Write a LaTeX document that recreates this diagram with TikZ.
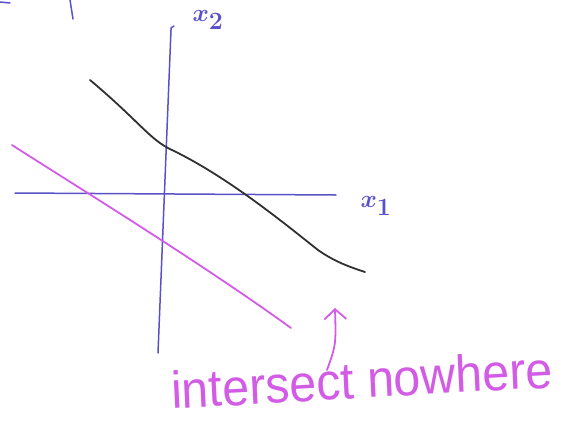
\documentclass[tikz,border=0pt]{standalone}
\usepackage{fontspec}
\newfontfamily\handfont{Liberation Sans}
\usepackage{xcolor}
\definecolor{penBlue}   {HTML}{5A50C8}
\definecolor{penPink}   {HTML}{D35CE6}
\definecolor{penBlack}  {HTML}{303030}
\usetikzlibrary{arrows.meta}

\begin{document}
\begin{tikzpicture}[x=1pt, y=-1pt,
    axis/.style={penBlue, line width=1.5pt, line cap=round},
    pen/.style={line width=1.8pt, line cap=round, line join=round}]
    \useasboundingbox (0,0) rectangle (566,421);
    % cut-off strokes along the top edge
    \draw[axis] (0,2) -- (10,3);
    \draw[axis] (70,0) -- (73,19);
    % axes, hand drawn: vertical leans a little to the left
    \coordinate (ytop) at (171,30);
    \coordinate (ybot) at (158,353);
    \coordinate (xleft) at (15,193);
    \coordinate (xright) at (336,195);
    \draw[axis] (174,26) -- (171,28) -- (ytop) -- (ybot);
    \draw[axis] (xleft) -- (xright);
    \node[penBlue, font=\boldmath\fontsize{34}{36}\selectfont] (lbltwo) at (208,20) {$x_2$};
    \node[penBlue, font=\boldmath\fontsize{34}{36}\selectfont] (lblone) at (376,206) {$x_1$};
    % the two parallel lines
    \draw[pen, penBlack] (90,80) .. controls (140,122) and (150,140) .. (172,150)
        .. controls (230,178) and (290,228) .. (318,250)
        .. controls (335,262) and (350,267) .. (365,272);
    \draw[pen, penPink] (12,145) .. controls (60,176) and (200,262) .. (291,328);
    % note with its arrow
    \node[penPink, font=\handfont\fontsize{52}{56}\selectfont, anchor=base west,
        xscale=0.93, rotate=3, inner sep=0pt] (note) at (172,409) {intersect nowhere};
    \coordinate (tip) at (335,308);
    \draw[pen, penPink, -{Straight Barb[length=10pt, width=22pt]}]
        (327,370) .. controls (336,345) .. (tip);
\end{tikzpicture}
\end{document}
